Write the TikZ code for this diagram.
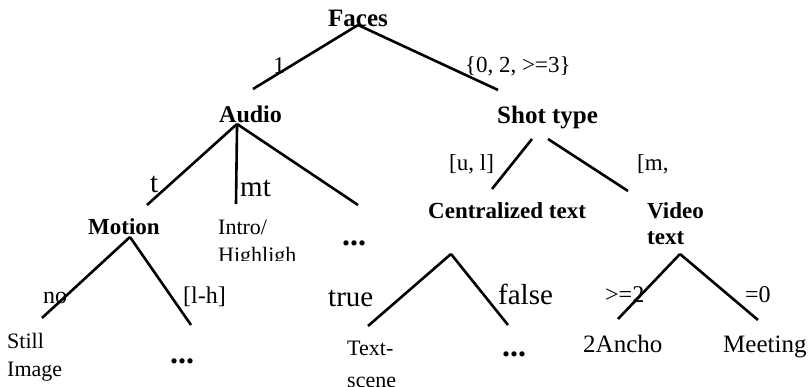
\documentclass[tikz,border=0pt]{standalone}
\usepackage{fontspec}
\setmainfont{Liberation Serif}

\begin{document}
\begin{tikzpicture}[
                x = 1pt, y = -1pt,
                attr/.style = {anchor = base west, inner sep = 0mm, font = \bfseries\fontsize{23}{28}\selectfont, align = left},
                val/.style = {anchor = base west, inner sep = 0mm, font = \fontsize{24}{28}\selectfont},
                bigval/.style = {anchor = base west, inner sep = 0mm, font = \fontsize{29}{34}\selectfont},
                leaf/.style = {anchor = base west, inner sep = 0mm, font = \fontsize{22}{28}\selectfont, align = left},
                more/.style = {anchor = base west, inner sep = 0mm, font = \bfseries\fontsize{32}{36}\selectfont},
                branch/.style = {draw, line width = 2.6pt},
            ]
            \useasboundingbox (0, 0) rectangle (811, 387);

            % attribute nodes
            \node (faces) at (328, 27) [attr, font = \bfseries\fontsize{25}{30}\selectfont] {Faces};
            \node (audio) at (219, 123) [attr, font = \bfseries\fontsize{24}{30}\selectfont] {Audio};
            \node (shot) at (497, 124) [attr, font = \bfseries\fontsize{25}{30}\selectfont] {Shot type};
            \node (motion) at (88, 235) [attr] {Motion};
            \node (central) at (428, 219) [attr] {Centralized text};
            \node (video) at (647, 245) [attr, font = \bfseries\fontsize{23}{26}\selectfont] {Video\\text};

            % leaves (last line gives the base)
            \begin{scope}
                \clip (200, 210) rectangle (310, 261);
                \node (intro) at (218, 263) [leaf] {Intro/\\Highligh};
            \end{scope}
            \begin{scope}
                \clip (0, 320) rectangle (120, 384);
                \node (still) at (7, 376) [leaf] {Still\\Image};
            \end{scope}
            \node (textscene) at (347, 387) [leaf, font = \fontsize{22}{32}\selectfont] {Text-\\scene};
            \node (ancho) at (583, 352) [val, font = \fontsize{25}{28}\selectfont] {2Ancho};
            \node (meeting) at (723, 352) [val, font = \fontsize{25}{28}\selectfont] {Meeting};
            \node (dots1) at (342, 246) [more] {...};
            \node (dots2) at (170, 363) [more] {...};
            \node (dots3) at (502, 356) [more] {...};

            % forks and free ends
            \coordinate (faces-fork) at ([yshift = 2pt]faces.base);
            \coordinate (audio-fork) at ([xshift = -13.5pt, yshift = -1pt]audio.base);
            \coordinate (motion-fork) at ([xshift = 6pt, yshift = -2pt]motion.base);
            \coordinate (shot-fork-l) at (532, 139);
            \coordinate (shot-fork-r) at (548, 139);
            \coordinate (central-fork) at (451, 254);
            \coordinate (video-fork) at (680, 254);

            \coordinate (audio-top) at (253, 89);
            \coordinate (shot-top) at (498, 90);
            \coordinate (motion-top) at (147, 205);
            \coordinate (intro-top) at (236, 204);
            \coordinate (dots1-top) at (358, 205);
            \coordinate (central-top) at (492, 189);
            \coordinate (video-top) at (628, 191);
            \coordinate (still-top) at (42, 318);
            \coordinate (dots2-top) at (191, 325);
            \coordinate (true-end) at (368, 326);
            \coordinate (false-end) at (508, 325);
            \coordinate (ancho-top) at (618, 319);
            \coordinate (meeting-top) at (758, 320);

            \path[branch] (faces-fork) -- (audio-top);
            \path[branch] (faces-fork) -- (shot-top);
            \path[branch] (audio-fork) -- (motion-top);
            \path[branch] (audio-fork) -- (intro-top);
            \path[branch] (audio-fork) -- (dots1-top);
            \path[branch] (shot-fork-l) -- (central-top);
            \path[branch] (shot-fork-r) -- (video-top);
            \path[branch] (motion-fork) -- (still-top);
            \path[branch] (motion-fork) -- (dots2-top);
            \path[branch] (central-fork) -- (true-end);
            \path[branch] (central-fork) -- (false-end);
            \path[branch] (video-fork) -- (ancho-top);
            \path[branch] (video-fork) -- (meeting-top);

            % branch values
            \node (v-one) at (273, 74) [val] {1};
            \node (v-rest) at (465, 73) [val, font = \fontsize{23}{28}\selectfont] {\{0, 2, >=3\}};
            \node (v-t) at (150, 193) [bigval] {t};
            \node (v-mt) at (240, 197) [bigval] {mt};
            \node (v-ul) at (449, 171) [val, font = \fontsize{23}{28}\selectfont] {[u, l]};
            \node (v-m) at (637, 171) [val, font = \fontsize{23}{28}\selectfont] {[m,};
            \node (v-no) at (43, 303) [val] {no};
            \node (v-lh) at (183, 303) [val] {[l-h]};
            \node (v-true) at (328, 307) [bigval] {true};
            \node (v-false) at (498, 305) [bigval] {false};
            \node (v-ge) at (605, 302) [val] {>=2};
            \node (v-eq) at (745, 302) [val] {=0};
        \end{tikzpicture}
\end{document}
